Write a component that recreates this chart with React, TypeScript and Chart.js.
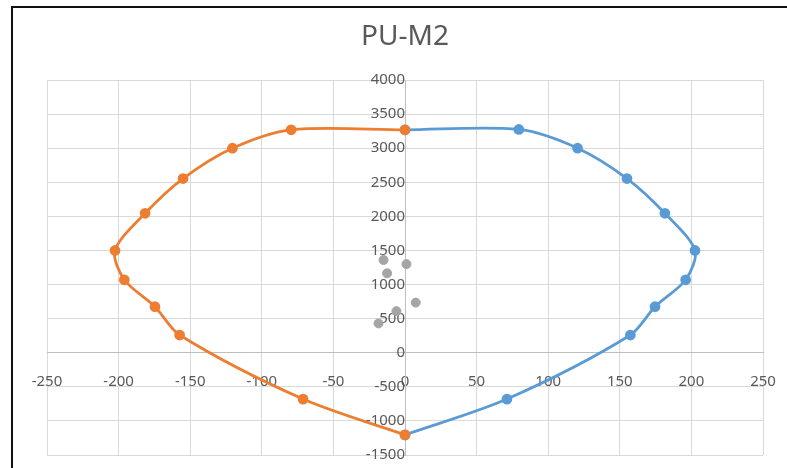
import React, { useEffect, useRef } from "react";
import { Chart, registerables } from "chart.js";

Chart.register(...registerables);

// Interaction diagram PU-M2: axial load P against moment M
const TITLE = "PU-M2";

// Positive-moment branch (blue), from the top of the curve down to the tension end
const posM = [0, 79.5, 120.5, 155, 181.5, 202.5, 196, 174.6, 157.4, 71.2, 0];
const posP = [3270, 3275, 3000, 2555, 2045, 1500, 1070, 675, 260, -680, -1205];

// Negative-moment branch (orange)
const negM = [0, -79.5, -120.5, -155, -181.5, -202.5, -196, -174.6, -157.4, -71.2, 0];
const negP = [3270, 3270, 3000, 2555, 2045, 1500, 1070, 675, 260, -680, -1205];

// Demand points (grey markers)
const demandM = [-15, 1, -12.5, 7.5, -6, -18.5];
const demandP = [1360, 1300, 1165, 735, 610, 430];

// Axis ranges and tick steps
const M_MIN = -250;
const M_MAX = 250;
const M_STEP = 50;
const P_MIN = -1500;
const P_MAX = 4000;
const P_STEP = 500;

const ORANGE = "#ED7D31";
const BLUE = "#5B9BD5";
const GREY = "#A5A5A5";
const TEXT = "#595959";
const GRID = "#D9D9D9";
const AXIS = "#BFBFBF";
const FONT = "'Noto Sans', 'DejaVu Sans', sans-serif";

const toPoints = (xs: number[], ys: number[]) => xs.map((x, i) => ({ x, y: ys[i] }));

// Axes crossing at the origin should not take any room away from the plot area
const collapseAxis = (scale: any) => {
  if (scale.isHorizontal()) scale.height = 0;
  else scale.width = 0;
  scale.paddingTop = 0;
  scale.paddingBottom = 0;
  scale.paddingLeft = 0;
  scale.paddingRight = 0;
};

export default function App() {
  const canvasRef = useRef<HTMLCanvasElement | null>(null);

  useEffect(() => {
    const canvas = canvasRef.current;
    if (!canvas) return;

    const chart = new Chart(canvas, {
      type: "scatter",
      data: {
        datasets: [
          {
            label: "Demand",
            data: toPoints(demandM, demandP),
            showLine: false,
            pointRadius: 4.5,
            pointBackgroundColor: GREY,
            pointBorderColor: GREY,
            order: 0,
          },
          {
            label: "M-",
            data: toPoints(negM, negP),
            showLine: true,
            borderColor: ORANGE,
            borderWidth: 2.75,
            tension: 0.3,
            pointRadius: 4,
            pointBackgroundColor: ORANGE,
            pointBorderColor: ORANGE,
            order: 1,
          },
          {
            label: "M+",
            data: toPoints(posM, posP),
            showLine: true,
            borderColor: BLUE,
            borderWidth: 2.75,
            tension: 0.3,
            pointRadius: 4,
            pointBackgroundColor: BLUE,
            pointBorderColor: BLUE,
            order: 2,
          },
        ],
      },
      options: {
        responsive: false,
        animation: false,
        devicePixelRatio: 1,
        layout: { padding: { left: 47, right: 24, top: 0, bottom: 13 } },
        plugins: {
          legend: { display: false },
          tooltip: { enabled: false },
          title: {
            display: true,
            text: TITLE,
            color: TEXT,
            font: { family: FONT, size: 28, weight: "normal", lineHeight: 1.2 },
            padding: { top: 20.5, bottom: 25.9 },
          },
        },
        scales: {
          x: {
            type: "linear",
            min: M_MIN,
            max: M_MAX,
            position: { y: 0 },
            afterFit: collapseAxis,
            ticks: {
              stepSize: M_STEP,
              color: TEXT,
              font: { family: FONT, size: 15 },
              padding: 20,
              maxRotation: 0,
              autoSkip: false,
              callback: (v: any) => String(v),
            },
            grid: { color: GRID, lineWidth: 1, drawTicks: false },
            border: { color: AXIS, width: 1 },
          },
          y: {
            type: "linear",
            min: P_MIN,
            max: P_MAX,
            position: { x: 0 },
            afterFit: collapseAxis,
            ticks: {
              stepSize: P_STEP,
              color: TEXT,
              font: { family: FONT, size: 15 },
              padding: 20,
              autoSkip: false,
              callback: (v: any) => String(v),
            },
            grid: { color: GRID, lineWidth: 1, drawTicks: false },
            border: { color: AXIS, width: 1 },
          },
        },
      },
    });

    return () => chart.destroy();
  }, []);

  return (
    <div
      style={{
        position: "fixed",
        left: 0,
        top: 0,
        width: 787,
        height: 468,
        background: "#fff",
        overflow: "hidden",
      }}
    >
      <canvas ref={canvasRef} width={787} height={468} style={{ display: "block" }} />
      <div
        style={{
          position: "absolute",
          left: 11,
          top: 6,
          width: 800,
          height: 480,
          borderLeft: "2px solid #111",
          borderTop: "2px solid #111",
          pointerEvents: "none",
        }}
      />
    </div>
  );
}
